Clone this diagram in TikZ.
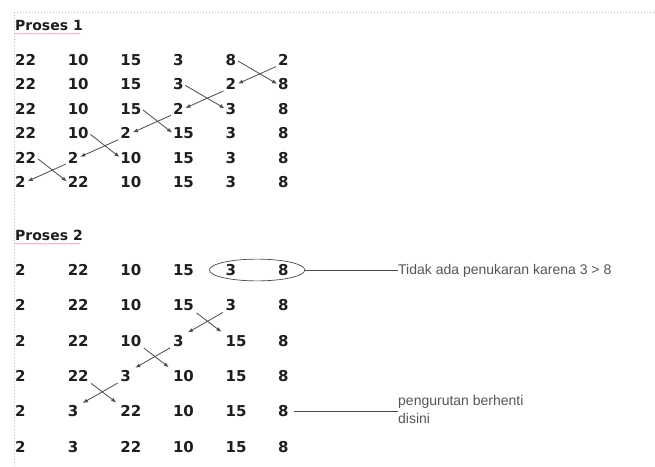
\documentclass[tikz,border=0pt]{standalone}
\usepackage{fontspec}
\usetikzlibrary{arrows.meta,shapes.geometric,fit,decorations.pathmorphing}
\newfontfamily\angkafont{DejaVu Sans}
\newfontfamily\ketfont{Liberation Sans}
\definecolor{tinta}{HTML}{1E1E1E}
\definecolor{garis}{HTML}{4A4A4A}
\definecolor{ketabu}{HTML}{555555}
\definecolor{warnabingkai}{HTML}{BBBBBB}
\definecolor{warnaejaan}{HTML}{E8A0A8}
\tikzset{
  angka/.style={anchor=west,inner sep=0pt,text height=11pt,text depth=0pt,tinta,
    font=\angkafont\bfseries\fontsize{15}{17}\selectfont},
  judul/.style={angka,font=\angkafont\bfseries\fontsize{14}{16}\selectfont},
  tukar/.style={-{Latex[length=5pt,width=4pt]},garis,line width=0.8pt},
  ket/.style={anchor=west,inner sep=0pt,ketabu,align=left,font=\ketfont\fontsize{14}{18}\selectfont},
  tunjuk/.style={garis,line width=0.6pt},
  bingkai/.style={warnabingkai,dotted,line width=1pt},
  ejaan/.style={warnaejaan,decorate,decoration={snake,amplitude=0.6pt,segment length=3pt},line width=0.5pt},
}

\begin{document}
\begin{tikzpicture}[x=1pt,y=-1pt]
  \useasboundingbox (0,0) rectangle (655,466);
  \draw[bingkai] (14,12) -- (655,12);
  \draw[bingkai] (14,12) -- (14,466);
  % proses 1
  \node[judul] (judul1) at (15,25) {Proses 1};
  \draw[ejaan] ([yshift=-3pt]judul1.south west) -- ++(65,0);
  \foreach \r/\isi in {1/{22,10,15,3,8,2},2/{22,10,15,3,2,8},3/{22,10,15,2,3,8},
                       4/{22,10,2,15,3,8},5/{22,2,10,15,3,8},6/{2,22,10,15,3,8}}
    \foreach \v [count=\c] in \isi
      \node[angka] (a\r-\c) at ({15+52.6*(\c-1)},{60+24.4*(\r-1)}) {\v};
  \foreach \r in {1,...,5}{
    \pgfmathtruncatemacro{\s}{\r+1}
    \pgfmathtruncatemacro{\ki}{6-\r}
    \pgfmathtruncatemacro{\ka}{7-\r}
    \draw[tukar,shorten <=2pt,shorten >=1pt] (a\r-\ki.east) -- (a\s-\ka.west);
    \draw[tukar,shorten <=2pt,shorten >=2pt] (a\r-\ka.south west) -- (a\s-\ki.east);
  }
  % proses 2
  \node[judul] (judul2) at (15,235) {Proses 2};
  \draw[ejaan] ([yshift=-3pt]judul2.south west) -- ++(65,0);
  \foreach \r/\isi in {1/{2,22,10,15,3,8},2/{2,22,10,15,3,8},3/{2,22,10,3,15,8},
                       4/{2,22,3,10,15,8},5/{2,3,22,10,15,8},6/{2,3,22,10,15,8}}
    \foreach \v [count=\c] in \isi
      \node[angka] (b\r-\c) at ({15+52.6*(\c-1)},{270+35.3*(\r-1)}) {\v};
  \foreach \r in {2,3,4}{
    \pgfmathtruncatemacro{\s}{\r+1}
    \pgfmathtruncatemacro{\ki}{6-\r}
    \pgfmathtruncatemacro{\ka}{7-\r}
    \draw[tukar,shorten <=3pt,shorten >=5pt] (b\r-\ki.south east) -- (b\s-\ka.north west);
    \draw[tukar,shorten <=3pt,shorten >=5pt] (b\r-\ka.south west) -- (b\s-\ki.north east);
  }
  \node[draw=garis,line width=0.7pt,ellipse,fit=(b1-5)(b1-6),inner sep=2pt] (lingkar) {};
  \node[ket] (ket1) at (398,271) {Tidak ada penukaran karena 3 > 8};
  \draw[tunjuk] (lingkar.east) -- (lingkar.east -| ket1.west);
  \node[ket] (ket2) at (398,409) {pengurutan berhenti\\disini};
  \draw[tunjuk] ([xshift=5pt]b5-6.east) -- (b5-6.east -| ket2.west);
\end{tikzpicture}
\end{document}
